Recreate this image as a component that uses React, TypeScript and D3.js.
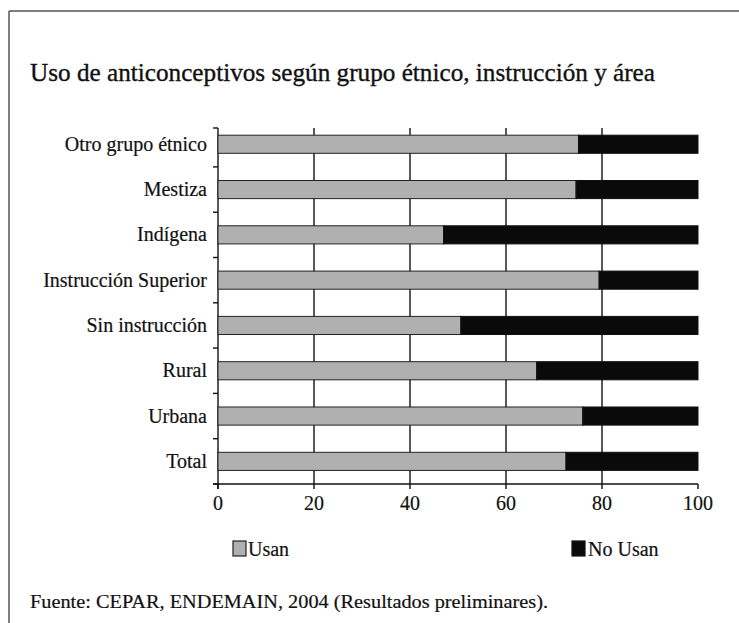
import React from "react";
import * as d3 from "d3";

const categories = [
  "Otro grupo étnico",
  "Mestiza",
  "Indígena",
  "Instrucción Superior",
  "Sin instrucción",
  "Rural",
  "Urbana",
  "Total",
];
const usan = [75.1, 74.6, 47.0, 79.4, 50.6, 66.4, 76.0, 72.5];
const noUsan = usan.map((v) => 100 - v);
const xTicks = [0, 20, 40, 60, 80, 100];
const seriesNames = ["Usan", "No Usan"];
const title = "Uso de anticonceptivos según grupo étnico, instrucción y área";
const source = "Fuente: CEPAR, ENDEMAIN, 2004 (Resultados preliminares).";

const W = 739;
const H = 623;
const FONT = "Liberation Serif";
const GRAY = "#b0b0b0";
const BLACK = "#0a0a0a";
const ts = { fontFamily: FONT } as React.CSSProperties;

export default function App() {
  const x = d3.scaleLinear().domain([0, 100]).range([218, 698]);
  const y0 = 121.6;
  const y1 = 484;
  const axisTop = 128;
  const y = d3.scaleBand().domain(categories).range([y0, y1]).paddingInner(0.6).paddingOuter(0.3);
  const bw = y.bandwidth();
  const step = y.step();
  const boundaries = d3.range(1, categories.length).map((i) => y0 + i * step).concat([axisTop, y1]);

  return (
    <svg width={W} height={H} style={{ position: "absolute", left: 0, top: 0, background: "#fff" }}>
      <rect x={0} y={0} width={W} height={H} fill="#fff" />
      <line x1={9} y1={11} x2={W} y2={11} stroke="#555" strokeWidth={1.5} />
      <line x1={9} y1={11} x2={9} y2={H} stroke="#555" strokeWidth={1.5} />
      <text x={30} y={81} style={ts} fontSize={25} fill="#111" stroke="#111" strokeWidth={0.35} textLength={625} lengthAdjust="spacingAndGlyphs">
        {title}
      </text>
      {xTicks.map((t) => (
        <line key={"g" + t} x1={x(t)} x2={x(t)} y1={t === 0 || t === 100 ? y1 : axisTop} y2={y1 + 5} stroke="#111" strokeWidth={1.4} />
      ))}
      <line x1={x(0)} x2={x(0)} y1={axisTop} y2={y1 + 5} stroke="#111" strokeWidth={1.4} />
      {boundaries.map((b, i) => (
        <line key={"yt" + i} x1={x(0) - 5} x2={x(0)} y1={b} y2={b} stroke="#111" strokeWidth={1.4} />
      ))}
      <line x1={x(0) - 5} x2={x(100)} y1={y1} y2={y1} stroke="#111" strokeWidth={1.4} />
      {xTicks.map((t) => (
        <text key={"xl" + t} x={x(t)} y={510} textAnchor="middle" style={ts} fontSize={20} fill="#111" stroke="#111" strokeWidth={0.2}>
          {t}
        </text>
      ))}
      {categories.map((c, i) => (
        <g key={c}>
          <rect x={x(0)} y={y(c)!} width={x(usan[i]) - x(0)} height={bw} fill={GRAY} stroke="#222" strokeWidth={1} />
          <rect x={x(usan[i])} y={y(c)!} width={x(usan[i] + noUsan[i]) - x(usan[i])} height={bw} fill={BLACK} stroke="#111" strokeWidth={1} />
          <text x={207} y={y(c)! + bw / 2 + 6.5} textAnchor="end" style={ts} fontSize={20} fill="#111" stroke="#111" strokeWidth={0.2}>
            {c}
          </text>
        </g>
      ))}
      <rect x={233} y={541} width={13} height={15} fill={GRAY} stroke="#222" strokeWidth={1.2} />
      <text x={248} y={556} style={ts} fontSize={20} fill="#111" stroke="#111" strokeWidth={0.2}>{seriesNames[0]}</text>
      <rect x={572} y={541} width={13} height={15} fill={BLACK} stroke="#111" strokeWidth={1.2} />
      <text x={588} y={556} style={ts} fontSize={20} fill="#111" stroke="#111" strokeWidth={0.2}>{seriesNames[1]}</text>
      <text x={30} y={608} style={ts} fontSize={19} fill="#111" stroke="#111" strokeWidth={0.2} textLength={518} lengthAdjust="spacingAndGlyphs">
        {source}
      </text>
    </svg>
  );
}
